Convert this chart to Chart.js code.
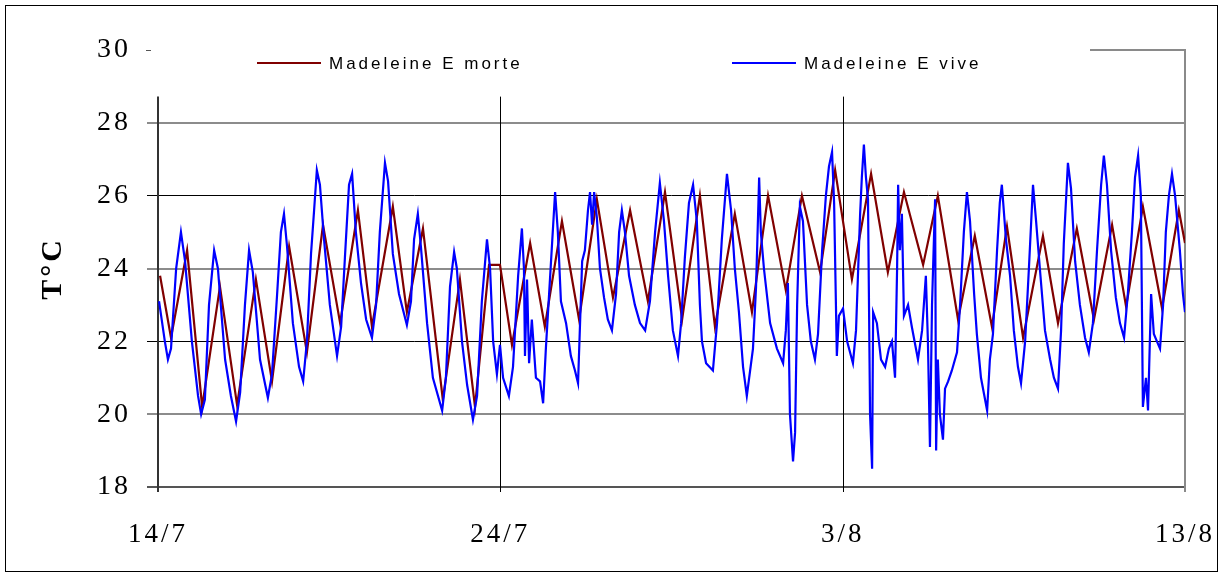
<!DOCTYPE html>
<html>
<head>
<meta charset="utf-8">
<script src="https://cdn.jsdelivr.net/npm/chart.js@4.4.1/dist/chart.umd.min.js"></script>
<style>
  html, body { margin: 0; padding: 0; background: #fff; }
  canvas { display: block; }
</style>
</head>
<body>
<canvas id="c" width="1227" height="574"></canvas>
<script>
// ---- data (days since 14/7) ----
const seriesNames = ['Madeleine E morte', 'Madeleine E vive'];
const tickDays = [0, 10, 20, 30];
const tickLabels = ['14/7', '24/7', '3/8', '13/8'];
const yTicks = [18, 20, 22, 24, 26, 28, 30];

const morteDays = [0.06,0.38,0.85,1.29,1.81,2.31,2.86,3.33,3.83,4.35,4.82,5.32,5.84,6.25,6.86,7.27,7.74,8.32,8.82,9.26,9.67,9.99,10.34,10.87,11.30,11.80,12.30,12.82,13.29,13.79,14.31,14.81,15.31,15.83,16.27,16.85,17.35,17.82,18.34,18.81,19.34,19.78,20.27,20.83,21.32,21.79,22.35,22.78,23.37,23.86,24.36,24.80,25.27,25.85,26.29,26.84,27.34,27.87,28.28,28.77,29.33,29.82,30.0];
const morteTemps = [23.8,22.1,24.5,20.2,23.5,20.25,23.7,20.9,24.6,21.7,25.2,22.5,25.6,22.4,25.7,22.8,25.1,20.4,23.7,20.2,24.1,24.1,21.9,24.7,22.4,25.3,22.6,25.9,23.2,25.6,23.1,26.1,22.6,26.0,22.4,25.5,22.8,26.0,23.4,26.0,23.9,26.7,23.7,26.6,23.9,26.1,24.1,26.0,22.6,24.9,22.4,25.15,22.1,24.9,22.5,25.1,22.6,25.2,22.95,25.7,22.9,25.6,24.7];

const viveDays = [0.03,0.20,0.29,0.38,0.53,0.67,0.79,0.99,1.17,1.26,1.37,1.49,1.64,1.75,1.96,2.13,2.28,2.40,2.54,2.66,2.77,2.98,3.21,3.33,3.48,3.59,3.68,3.77,3.94,4.12,4.24,4.35,4.47,4.56,4.64,4.73,4.85,5.02,5.23,5.35,5.46,5.58,5.67,5.78,5.93,6.08,6.25,6.37,6.48,6.63,6.72,6.86,7.04,7.27,7.39,7.48,7.59,7.68,7.86,8.03,8.30,8.41,8.53,8.65,8.73,8.88,9.03,9.20,9.32,9.46,9.61,9.70,9.79,9.90,9.99,10.08,10.25,10.37,10.52,10.63,10.69,10.72,10.78,10.84,10.92,11.04,11.16,11.25,11.33,11.45,11.60,11.68,11.77,11.92,12.06,12.18,12.27,12.39,12.47,12.56,12.62,12.68,12.74,12.82,12.91,13.03,13.14,13.26,13.38,13.47,13.55,13.64,13.76,13.93,14.08,14.23,14.37,14.52,14.66,14.78,14.90,15.04,15.19,15.28,15.39,15.51,15.63,15.74,15.83,15.89,16.01,16.21,16.33,16.47,16.62,16.74,16.85,16.97,17.09,17.20,17.38,17.47,17.56,17.61,17.70,17.88,18.08,18.26,18.34,18.40,18.46,18.55,18.61,18.67,18.75,18.84,18.96,19.07,19.19,19.28,19.40,19.51,19.60,19.69,19.75,19.83,19.89,20.01,20.13,20.30,20.39,20.51,20.56,20.62,20.68,20.74,20.80,20.86,20.89,21.00,21.12,21.24,21.35,21.44,21.53,21.59,21.62,21.67,21.73,21.79,21.91,22.02,22.20,22.32,22.43,22.49,22.55,22.61,22.70,22.73,22.78,22.84,22.93,22.99,23.08,23.19,23.34,23.43,23.54,23.63,23.72,23.84,23.92,24.04,24.22,24.30,24.39,24.51,24.59,24.65,24.77,24.89,25.00,25.12,25.21,25.33,25.44,25.56,25.65,25.76,25.91,26.06,26.17,26.29,26.38,26.46,26.58,26.67,26.79,26.93,27.08,27.19,27.31,27.43,27.55,27.63,27.72,27.84,27.98,28.10,28.22,28.33,28.45,28.54,28.63,28.71,28.77,28.86,28.92,29.01,29.09,29.18,29.27,29.36,29.44,29.53,29.62,29.71,29.85,29.94,30.00];
const viveTemps = [23.1,22.0,21.5,21.8,24.0,25.0,24.2,22.0,20.5,20.0,20.4,23.0,24.5,24.0,21.5,20.5,19.8,20.6,23.0,24.5,23.9,21.5,20.45,21.1,23.3,25.0,25.5,24.6,22.5,21.3,20.9,22.0,24.4,25.6,26.7,26.3,24.8,23.0,21.6,22.4,24.3,26.3,26.6,25.0,23.6,22.6,22.1,23.0,25.0,26.9,26.4,24.4,23.3,22.45,23.1,24.8,25.5,24.6,22.5,21.0,20.1,21.0,23.5,24.45,24.0,22.0,20.8,19.85,20.5,23.1,24.8,24.0,22.0,21.1,21.9,21.0,20.5,21.3,23.8,25.1,24.0,21.6,23.7,21.4,22.6,21.0,20.9,20.3,21.8,23.7,26.1,25.0,23.1,22.5,21.6,21.2,20.85,24.2,24.5,25.6,26.1,25.2,26.1,25.4,24.0,23.2,22.6,22.3,23.3,25.0,25.6,25.0,23.8,23.0,22.5,22.3,23.1,25.0,26.35,25.3,23.8,22.3,21.6,22.5,24.3,25.8,26.3,25.3,23.0,22.0,21.4,21.2,22.5,24.8,26.6,25.6,24.0,22.8,21.3,20.5,21.8,23.5,26.5,25.0,24.0,22.5,21.8,21.4,22.3,23.6,20.0,18.7,19.5,23.0,25.7,25.3,23.0,22.0,21.5,22.2,24.5,26.0,26.8,27.2,25.8,21.6,22.7,22.9,22.0,21.4,22.3,25.5,26.5,27.4,26.5,25.9,20.0,18.5,22.8,22.5,21.5,21.3,21.8,22.0,21.0,24.0,26.3,24.5,25.5,22.7,23.0,22.4,21.5,22.3,23.8,22.0,19.1,23.0,25.9,19.0,21.5,20.0,19.3,20.7,20.9,21.2,21.7,23.0,25.0,26.1,25.3,23.3,22.2,21.0,20.1,21.5,22.2,24.5,25.8,26.3,24.8,23.8,22.3,21.3,20.85,22.0,24.0,26.3,25.3,24.0,22.3,21.5,21.0,20.7,22.3,24.7,26.9,26.2,24.2,23.0,22.1,21.7,22.5,24.5,26.3,27.1,26.3,24.5,23.2,22.5,22.1,23.3,25.0,26.5,27.1,26.0,20.2,21.0,20.1,23.3,22.2,22.0,21.8,23.0,25.0,26.0,26.6,26.0,24.5,23.3,22.8];

function zip(xs, ys) {
  const n = Math.min(xs.length, ys.length);
  const out = [];
  for (let i = 0; i < n; i++) out.push({ x: xs[i], y: ys[i] });
  return out;
}

const SERIF = '"Liberation Serif", "Times New Roman", serif';
const SANS = '"Liberation Sans", Arial, sans-serif';
const RED = '#800000';
const BLUE = '#0000ff';

function setSpacing(chart) {
  try { chart.ctx.letterSpacing = '3px'; } catch (e) {}
}

const decor = {
  id: 'decor',
  beforeUpdate: setSpacing,
  beforeLayout: setSpacing,
  beforeDraw: setSpacing,
  beforeDatasetsDraw(chart) {
    const { ctx, chartArea } = chart;
    const xs = chart.scales.x, ys = chart.scales.y;
    const topY = ys.getPixelForValue(28.72);
    const botY = chartArea.bottom + 5;
    ctx.save();
    ctx.letterSpacing = '0px';
    // inner vertical lines
    ctx.strokeStyle = '#000';
    ctx.lineWidth = 1;
    [10, 20].forEach(d => {
      const x = Math.round(xs.getPixelForValue(d)) + 0.5;
      ctx.beginPath(); ctx.moveTo(x, topY); ctx.lineTo(x, botY); ctx.stroke();
    });
    // left axis line
    ctx.strokeStyle = '#333';
    ctx.lineWidth = 2;
    const x0 = Math.round(xs.getPixelForValue(0));
    ctx.beginPath(); ctx.moveTo(x0, topY); ctx.lineTo(x0, botY); ctx.stroke();
    // right gray border with top segment
    ctx.strokeStyle = '#8a8a8a';
    ctx.lineWidth = 2;
    const xr = Math.round(xs.getPixelForValue(30));
    const yt = Math.round(ys.getPixelForValue(30));
    ctx.beginPath();
    ctx.moveTo(xr - 95, yt); ctx.lineTo(xr, yt); ctx.lineTo(xr, botY);
    ctx.stroke();
    // small dash at 30
    ctx.strokeStyle = '#555';
    ctx.lineWidth = 1;
    ctx.beginPath(); ctx.moveTo(x0 - 12, yt + 0.5); ctx.lineTo(x0 - 7, yt + 0.5); ctx.stroke();
    ctx.restore();
  },
  afterDraw(chart) {
    const { ctx } = chart;
    ctx.save();
    // legend
    const items = [
      { name: seriesNames[0], color: RED, x: 257 },
      { name: seriesNames[1], color: BLUE, x: 732 }
    ];
    const ly = 63;
    ctx.font = '17px ' + SANS;
    ctx.textBaseline = 'middle';
    ctx.textAlign = 'left';
    items.forEach(it => {
      ctx.strokeStyle = it.color;
      ctx.lineWidth = 2;
      ctx.beginPath(); ctx.moveTo(it.x, ly); ctx.lineTo(it.x + 64, ly); ctx.stroke();
      try { ctx.letterSpacing = '3px'; } catch (e) {}
      ctx.fillStyle = '#000';
      ctx.fillText(it.name, it.x + 72, ly + 1);
    });
    // outer border
    ctx.strokeStyle = '#000';
    ctx.lineWidth = 1;
    ctx.strokeRect(5.5, 5.5, 1212, 566);
    ctx.restore();
  }
};

const chart = new Chart(document.getElementById('c'), {
  type: 'line',
  data: {
    datasets: [
      {
        label: seriesNames[0],
        data: zip(morteDays, morteTemps),
        borderColor: RED,
        backgroundColor: RED,
        borderWidth: 2.2,
        pointRadius: 0,
        tension: 0,
        order: 1
      },
      {
        label: seriesNames[1],
        data: zip(viveDays, viveTemps),
        borderColor: BLUE,
        backgroundColor: BLUE,
        borderWidth: 2.2,
        pointRadius: 0,
        tension: 0,
        order: 0
      }
    ]
  },
  options: {
    responsive: false,
    animation: false,
    devicePixelRatio: 1,
    layout: { padding: { left: 0, right: 42, top: 50, bottom: 0 } },
    plugins: {
      legend: { display: false },
      tooltip: { enabled: false }
    },
    scales: {
      x: {
        type: 'linear',
        min: tickDays[0],
        max: tickDays[tickDays.length - 1],
        grid: { display: false },
        border: { display: false },
        afterBuildTicks(scale) { scale.ticks = tickDays.map(v => ({ value: v })); },
        afterFit(scale) { scale.height = 87; scale.paddingLeft = 0; scale.paddingRight = 0; },
        ticks: {
          autoSkip: false,
          maxRotation: 0,
          padding: 24,
          color: '#000',
          font: { family: SERIF, size: 27 },
          callback(value) {
            const i = tickDays.indexOf(value);
            return i >= 0 ? tickLabels[i] : '';
          }
        }
      },
      y: {
        min: yTicks[0],
        max: yTicks[yTicks.length - 1],
        afterBuildTicks(scale) { scale.ticks = yTicks.map(v => ({ value: v })); },
        afterFit(scale) { scale.width = 158; scale.paddingTop = 0; scale.paddingBottom = 0; },
        border: { display: false },
        grid: {
          tickLength: 11,
          color(c) {
            const v = c.tick ? c.tick.value : null;
            if (v === 30) return 'rgba(0,0,0,0)';
            if (v === 18) return '#555';
            if (v === 26 || v === 22) return '#000';
            return '#8c8c8c';
          },
          lineWidth(c) {
            const v = c.tick ? c.tick.value : null;
            if (v === 26 || v === 22) return 1;
            return 2;
          }
        },
        ticks: {
          padding: 16,
          color: '#000',
          font: { family: SERIF, size: 28 }
        },
        title: {
          display: true,
          text: 'T°C',
          color: '#000',
          font: { family: SERIF, size: 30, weight: 'bold' },
          padding: { top: 35, bottom: 0 }
        }
      }
    }
  },
  plugins: [decor]
});
</script>
</body>
</html>
